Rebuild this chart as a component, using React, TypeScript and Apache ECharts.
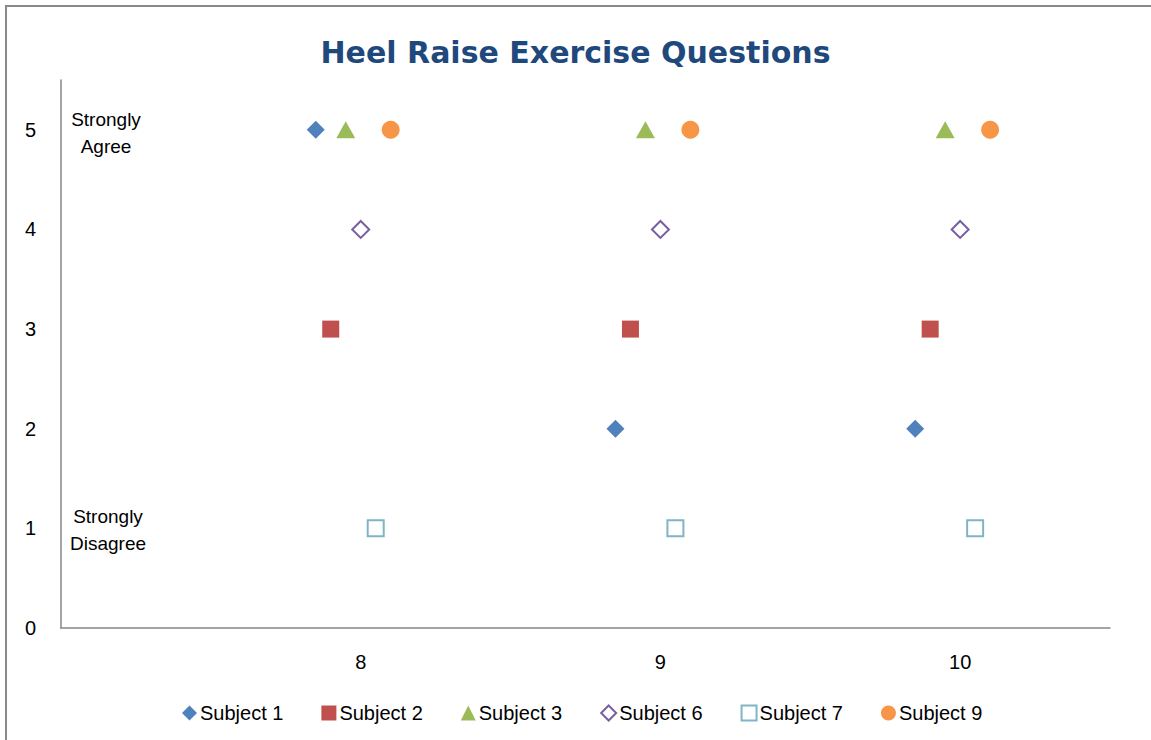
import React, { useEffect, useRef } from "react";
import * as echarts from "echarts";

const title = "Heel Raise Exercise Questions";
const seriesNames = ["Subject 1", "Subject 2", "Subject 3", "Subject 6", "Subject 7", "Subject 9"];
const subject1 = [[7.85, 5], [8.85, 2], [9.85, 2]];
const subject2 = [[7.9, 3], [8.9, 3], [9.9, 3]];
const subject3 = [[7.95, 5], [8.95, 5], [9.95, 5]];
const subject6 = [[8.0, 4], [9.0, 4], [10.0, 4]];
const subject7 = [[8.05, 1], [9.05, 1], [10.05, 1]];
const subject9 = [[8.1, 5], [9.1, 5], [10.1, 5]];
const xTickLabels = ["8", "9", "10"];
const agreeLabel = "Strongly\nAgree";
const disagreeLabel = "Strongly\nDisagree";

export default function App() {
  const ref = useRef<HTMLDivElement>(null);
  useEffect(() => {
    document.body.style.margin = "0";
    const chart = echarts.init(ref.current!, null, { renderer: "svg" });
    const font = "'Liberation Sans', Arial, sans-serif";
    const mk = (name: string, data: number[][], symbol: string, size: any, color: string, hollow = false) => ({
      name,
      type: "scatter",
      data,
      symbol,
      symbolSize: size,
      itemStyle: hollow
        ? { color: "#ffffff", borderColor: color, borderWidth: 2, opacity: 1 }
        : { color, opacity: 1 },
    });
    chart.setOption({
      animation: false,
      backgroundColor: "#ffffff",
      title: {
        text: title,
        left: "center",
        top: 32,
        textStyle: {
          fontFamily: "'DejaVu Sans', sans-serif",
          fontWeight: "bold",
          fontSize: 30,
          color: "#1F497D",
        },
      },
      graphic: [
        {
          type: "rect",
          shape: { x: 6, y: 6, width: 1200, height: 800 },
          style: { fill: "none", stroke: "#898989", lineWidth: 2 },
          silent: true,
        },
        {
          type: "text",
          x: 106,
          y: 106,
          style: { text: agreeLabel, fontFamily: font, fontSize: 19, lineHeight: 27, fill: "#000", align: "center" },
        },
        {
          type: "text",
          x: 108,
          y: 503,
          style: { text: disagreeLabel, fontFamily: font, fontSize: 19, lineHeight: 27, fill: "#000", align: "center" },
        },
      ],
      legend: {
        left: 177,
        top: 698,
        itemWidth: 15,
        itemHeight: 15,
        itemGap: 38,
        textStyle: { fontFamily: font, fontSize: 20, color: "#000", padding: [0, 0, 0, -2] },
        data: seriesNames,
      },
      grid: { left: 61, top: 80, right: 41, bottom: 112 },
      xAxis: {
        type: "value",
        min: 7,
        max: 10.5,
        interval: 1,
        splitLine: { show: false },
        axisTick: { show: false },
        axisLine: { show: true, lineStyle: { color: "#868686", width: 1.5 } },
        axisLabel: {
          margin: 24,
          fontFamily: font,
          fontSize: 20,
          color: "#000",
          showMaxLabel: false,
          formatter: (v: number) => (xTickLabels.includes(String(v)) ? String(v) : ""),
        },
      },
      yAxis: {
        type: "value",
        min: 0,
        max: 5.5,
        interval: 1,
        splitLine: { show: false },
        axisTick: { show: false },
        axisLine: { show: true, lineStyle: { color: "#868686", width: 1.5 } },
        axisLabel: {
          margin: 25,
          fontFamily: font,
          fontSize: 20,
          color: "#000",
          showMaxLabel: false,
          formatter: (v: number) => (Number.isInteger(v) ? String(v) : ""),
        },
      },
      series: [
        mk(seriesNames[0], subject1, "diamond", 18, "#4F81BD"),
        mk(seriesNames[1], subject2, "rect", 17, "#C0504D"),
        mk(seriesNames[2], subject3, "triangle", [19, 17], "#9BBB59"),
        mk(seriesNames[3], subject6, "diamond", 17, "#7A5FA0", true),
        mk(seriesNames[4], subject7, "rect", 16, "#7FB5C4", true),
        mk(seriesNames[5], subject9, "circle", 18, "#F79646"),
      ],
    });
    return () => chart.dispose();
  }, []);
  return <div ref={ref} style={{ width: 1151, height: 740 }} />;
}
